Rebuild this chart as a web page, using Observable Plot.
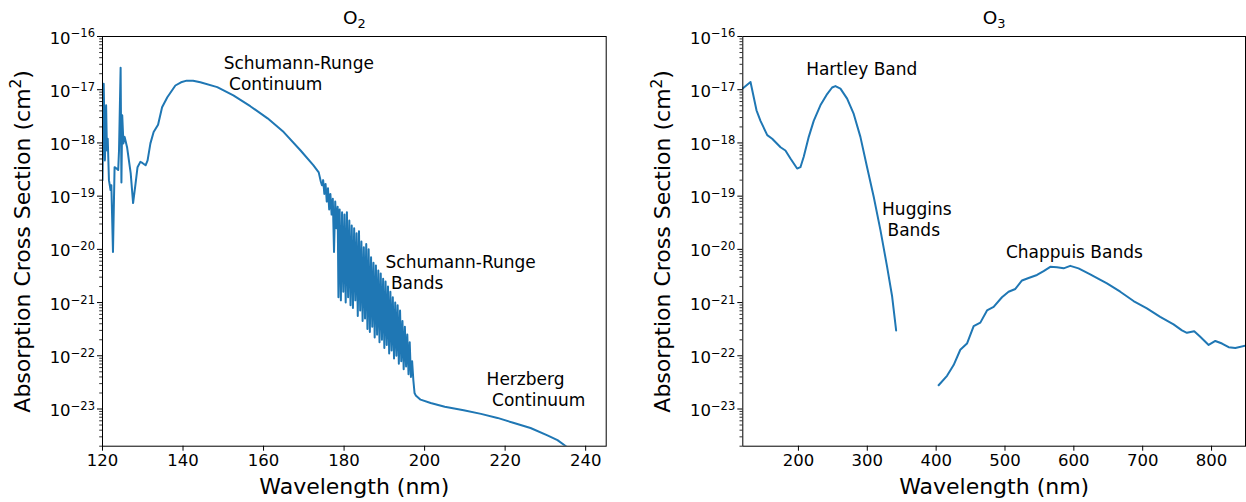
<!DOCTYPE html>
<html><head><meta charset="utf-8">
<script src="https://cdn.jsdelivr.net/npm/d3@7"></script>
<script src="https://cdn.jsdelivr.net/npm/@observablehq/plot@0.6"></script>
<style>
body{margin:0;background:#fff;}
#wrap{position:relative;width:1246px;height:502px;display:flex;}
#wrap svg{display:block;}
</style></head><body><div id="wrap"></div>
<script>
// ---------- O2 (left panel) ----------
const o2Wavelength = [
120.0,120.3,120.6,120.9,121.1,121.3,121.6,122.0,122.2,122.6,123.0,123.5,123.9,124.1,124.5,124.7,124.9,125.2,125.5,126.1,
127.0,127.6,128.2,128.7,129.4,129.9,130.7,131.2,131.9,132.7,133.8,134.8,136.1,138.1,139.5,140.9,142.5,144.3,148.5,152.5,156.7,161.0,
165.0,169.2,172.4,173.7,174.2,
174.5,174.8,175.1,175.4,175.7,176.0,176.3,176.6,176.9,177.2,177.5,177.8,178.1,178.4,178.6,178.9,179.2,179.5,179.8,180.1,
180.4,180.7,181.0,181.3,181.6,181.9,182.2,182.5,182.8,183.1,183.4,183.7,184.0,184.3,184.6,184.9,185.2,185.5,185.8,186.1,
186.4,186.7,187.0,187.3,187.6,187.9,188.2,188.5,188.8,189.1,189.4,189.7,190.0,190.3,190.6,190.9,191.2,191.5,191.8,192.1,
192.4,192.7,193.0,193.3,193.6,193.9,194.2,194.5,194.8,195.1,195.4,195.7,196.0,196.3,196.6,196.9,197.2,197.5,
197.8,199.0,201.5,205.0,209.7,214.0,218.1,222.0,226.3,230.5,233.0,235.1,236.5
];
const o2Sigma = [
2.0e-19,1.3e-17,4.7e-19,5.1e-18,7.2e-19,1.2e-18,2.0e-19,1.3e-19,1.6e-19,8.9e-21,3.5e-19,3.3e-19,3.1e-19,7.2e-19,2.6e-17,1.8e-19,3.3e-18,9.8e-19,1.3e-18,8.3e-19,
2.7e-19,7.4e-20,1.7e-19,3.5e-19,4.4e-19,4.2e-19,3.8e-19,4.7e-19,9.8e-19,1.6e-18,2.2e-18,4.7e-18,7.2e-18,1.2e-17,1.38e-17,1.48e-17,1.48e-17,1.38e-17,1.12e-17,7.8e-18,4.9e-18,2.9e-18,
1.6e-18,7.2e-19,3.8e-19,2.8e-19,1.9e-19,
1.6e-19,2.0e-19,1.1e-19,1.7e-19,7.9e-20,1.4e-19,5.6e-20,1.1e-19,4.5e-20,8.9e-20,8.9e-21,7.9e-20,2.5e-20,6.3e-20,1.26e-21,5.6e-20,1.1e-21,5.0e-20,1.6e-21,4.5e-20,
1.0e-21,5.0e-20,1.26e-21,3.5e-20,8.9e-22,2.8e-20,7.9e-22,2.5e-20,1.1e-21,2.0e-20,5.6e-22,2.2e-20,7.1e-22,1.4e-20,4.5e-22,1.1e-20,5.0e-22,1.26e-20,3.2e-22,1.0e-20,
2.8e-22,7.1e-21,3.5e-22,5.6e-21,2.2e-22,5.0e-21,2.5e-22,4.0e-21,1.8e-22,3.5e-21,2.0e-22,2.8e-21,1.4e-22,2.5e-21,1.6e-22,2.0e-21,1.1e-22,1.6e-21,1.26e-22,1.26e-21,
8.9e-23,1.0e-21,1.0e-22,8.9e-22,7.1e-23,7.1e-22,7.9e-23,4.5e-22,5.6e-23,3.5e-22,6.3e-23,2.5e-22,4.5e-23,1.8e-22,4.0e-23,7.9e-23,3.5e-23,2.0e-23,
1.8e-23,1.5e-23,1.3e-23,1.1e-23,9.5e-24,8.1e-24,6.8e-24,5.5e-24,4.4e-24,3.2e-24,2.6e-24,2.0e-24,1.4e-24
];

// ---------- O3 (right panel) ----------
const o3HartleyWavelength = [119,130.4,139.1,144.9,154.7,161.9,174.0,181.1,188.4,198.1,202.9,207.7,215.0,222.2,231.9,241.7,248.9,253.7,261.0,270.7,280.3,290.0,299.7,309.4,319.1,328.8,336.1,341.9];
const o3HartleySigma = [1.05e-17,1.4e-17,4.1e-18,2.6e-18,1.4e-18,1.2e-18,8.3e-19,7.2e-19,5.1e-19,3.3e-19,3.5e-19,5.5e-19,1.3e-18,2.6e-18,5.1e-18,8.3e-18,1.1e-17,1.17e-17,1.05e-17,6.8e-18,3.5e-18,1.3e-18,3.5e-19,9.6e-20,2.3e-20,4.7e-21,1.3e-21,3.0e-22];
const o3ChappuisWavelength = [403.6,415.8,425.4,435.1,444.8,454.5,464.2,473.9,483.5,495.6,505.2,515.0,524.7,534.3,546.5,556.1,565.8,575.5,585.1,594.8,606.8,623.8,635.9,648.1,667.4,686.7,706.1,725.4,744.8,757.0,764.2,774.8,783.2,795.8,805.5,815.2,824.8,834.5,849.0];
const o3ChappuisSigma = [2.8e-23,4.2e-23,6.7e-23,1.3e-22,1.7e-22,3.6e-22,4.2e-22,7.1e-22,8.3e-22,1.26e-21,1.6e-21,1.8e-21,2.6e-21,2.9e-21,3.3e-21,3.9e-21,4.7e-21,4.6e-21,4.4e-21,4.9e-21,4.4e-21,3.4e-21,2.8e-21,2.3e-21,1.6e-21,1.07e-21,7.8e-22,5.4e-22,3.9e-22,3.0e-22,2.7e-22,2.9e-22,2.3e-22,1.6e-22,1.9e-22,1.7e-22,1.45e-22,1.4e-22,1.55e-22];

// ---------- annotations ----------
const o2NoteLabels = ["Schumann-Runge\n\u00a0Continuum", "Schumann-Runge\n\u00a0Bands", "Herzberg\n\u00a0Continuum"];
const o2NoteX = [150.1, 190.3, 215.4];
const o2NoteY = [4.4e-17, 7.8e-21, 5.0e-23];
const o3NoteLabels = ["Hartley Band", "Huggins\n\u00a0Bands", "Chappuis Bands"];
const o3NoteX = [211.2, 321.5, 501.4];
const o3NoteY = [3.3e-17, 7.8e-20, 1.2e-20];

// ---------- ticks & labels ----------
const o2XTicks = [120, 140, 160, 180, 200, 220, 240];
const o3XTicks = [200, 300, 400, 500, 600, 700, 800];
const yTicks = [1e-16, 1e-17, 1e-18, 1e-19, 1e-20, 1e-21, 1e-22, 1e-23];
const yTickLabels = ["10^{−16}", "10^{−17}", "10^{−18}", "10^{−19}", "10^{−20}", "10^{−21}", "10^{−22}", "10^{−23}"];
const yMinorTicks = [];
for (let e = -24; e <= -17; e++) for (let m = 2; m <= 9; m++) { const v = m * Math.pow(10, e); if (v >= 2e-24 && v <= 1e-16) yMinorTicks.push(v); }
const xLabel = "Wavelength (nm)";
const yLabel = "Absorption Cross Section (cm^{2})";

const zip = (xs, ys) => xs.map((w, i) => ({w, s: ys[i]}));
const notes = (labels, xs, ys) => labels.map((label, i) => ({label, w: xs[i], s: ys[i]}));

function panel({width, marginLeft, marginRight, xDomain, xTicks, lines, noteData, title}) {
  return Plot.plot({
    width, height: 502, marginTop: 36, marginBottom: 56.3, marginLeft, marginRight,
    style: {fontFamily: "'DejaVu Sans', sans-serif", fontSize: "16.5px", color: "black", background: "white", overflow: "visible"},
    x: {domain: xDomain, label: null},
    y: {type: "log", domain: [2e-24, 1e-16], label: null},
    marks: [
      Plot.axisX(xTicks, {tickSize: 5, tickPadding: 3.5, tickFormat: d => String(d), label: null}),
      Plot.axisY(yTicks, {tickSize: 5, tickPadding: 2.5, tickFormat: d => yTickLabels[yTicks.indexOf(d)], label: null}),
      Plot.axisY(yMinorTicks, {tickSize: 2.8, strokeWidth: 0.8, tickFormat: () => "", label: null}),
      ...lines.map(l => Plot.line(l, {x: "w", y: "s", stroke: "#1f77b4", strokeWidth: 2, clip: true})),
      Plot.text(noteData, {x: "w", y: "s", text: "label", textAnchor: "start", lineAnchor: "top", dy: -2, fontSize: 17, lineHeight: 1.25, fill: "black"}),
      Plot.text([title], {frameAnchor: "top", dy: -18, lineAnchor: "middle", textAnchor: "middle", fontSize: 18.5, fill: "black"}),
      Plot.text([xLabel], {frameAnchor: "bottom", dy: 41, lineAnchor: "middle", textAnchor: "middle", fontSize: 22, fill: "black"}),
      Plot.text([yLabel], {frameAnchor: "left", dx: -80, rotate: -90, lineAnchor: "middle", textAnchor: "middle", fontSize: 22, fill: "black"}),
      Plot.frame({stroke: "black", strokeWidth: 1})
    ]
  });
}

// turn "a^{b}" / "a_{b}" into tspans, mimicking mathtext super/subscripts
function mathify(svg) {
  const NS = "http://www.w3.org/2000/svg";
  svg.querySelectorAll("text").forEach(t => {
    if (t.querySelector("tspan")) return;
    const s = t.textContent;
    if (!/[\^_]\{/.test(s)) return;
    const fs = parseFloat(getComputedStyle(t).fontSize) || 16.5;
    t.textContent = "";
    const re = /([\^_])\{([^}]*)\}/g;
    let last = 0, m, shift = 0, first = true;
    const base = s.startsWith("10^") ? 1.8 : 0;
    const add = (txt, dy, size) => {
      const sp = document.createElementNS(NS, "tspan");
      sp.textContent = txt;
      if (dy) sp.setAttribute("dy", dy);
      if (size) sp.setAttribute("font-size", size);
      t.appendChild(sp);
    };
    while ((m = re.exec(s))) {
      if (m.index > last) { add(s.slice(last, m.index), (first ? base : 0) - shift); shift = 0; first = false; }
      const d = m[1] === "^" ? -0.37 * fs : 0.2 * fs;
      add(m[2], d + (first ? base : 0), fs * 0.7);
      first = false;
      shift = d;
      last = re.lastIndex;
    }
    if (last < s.length) add(s.slice(last), -shift);
  });
}

const wrap = document.getElementById("wrap");
const left = panel({
  width: 623, marginLeft: 102, marginRight: 17.3, xDomain: [120, 245.1], xTicks: o2XTicks,
  lines: [zip(o2Wavelength, o2Sigma)], noteData: notes(o2NoteLabels, o2NoteX, o2NoteY), title: "O_{2}"
});
const right = panel({
  width: 623, marginLeft: 119.3, marginRight: 1, xDomain: [119.2, 849.3], xTicks: o3XTicks,
  lines: [zip(o3HartleyWavelength, o3HartleySigma), zip(o3ChappuisWavelength, o3ChappuisSigma)],
  noteData: notes(o3NoteLabels, o3NoteX, o3NoteY), title: "O_{3}"
});
wrap.appendChild(left);
wrap.appendChild(right);
mathify(left);
mathify(right);
</script></body></html>
